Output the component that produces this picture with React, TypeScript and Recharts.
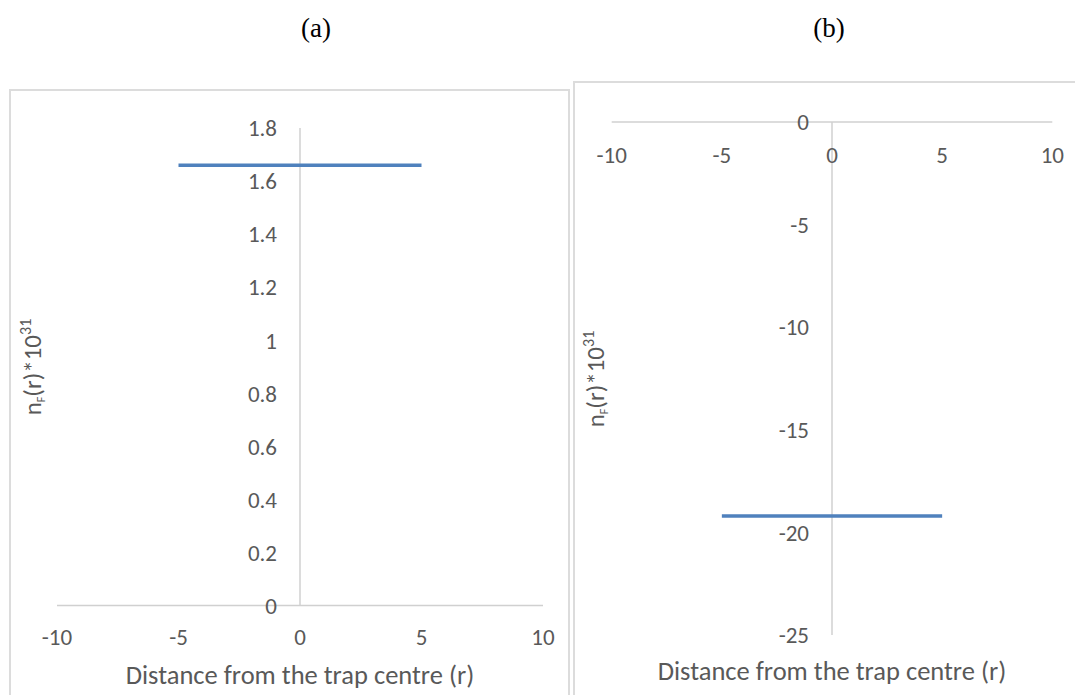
import React from 'react';
import { LineChart, Line, XAxis, YAxis, ReferenceLine } from 'recharts';

// ---- data ----
const distanceA = [-5, -4, -3, -2, -1, 0, 1, 2, 3, 4, 5];
const densityA = [1.66, 1.66, 1.66, 1.66, 1.66, 1.66, 1.66, 1.66, 1.66, 1.66, 1.66];
const distanceB = [-5, -4, -3, -2, -1, 0, 1, 2, 3, 4, 5];
const densityB = [-19.2, -19.2, -19.2, -19.2, -19.2, -19.2, -19.2, -19.2, -19.2, -19.2, -19.2];
const xTicks = [-10, -5, 0, 5, 10];
const yTicksA = [0, 0.2, 0.4, 0.6, 0.8, 1, 1.2, 1.4, 1.6, 1.8];
const yTicksB = [-25, -20, -15, -10, -5, 0];
const panelTitles = ['(a)', '(b)'];
const xTitle = 'Distance from the trap centre (r)';

const dataA = distanceA.map((r, i) => ({ r, n: densityA[i] }));
const dataB = distanceB.map((r, i) => ({ r, n: densityB[i] }));

// ---- styles ----
const FONT = 'Calibri, Carlito, Lato, sans-serif';
const TEXT = '#595959';
const AXIS = '#d0d0d0';
const LINE = '#4f81bd';
const TICK_SIZE = 23;

const makeYTick = (shift: number) => (props: any) => {
  const { x, y, payload } = props;
  return (
    <text x={x + shift} y={y} dy="0.36em" textAnchor="end" fill={TEXT} fontSize={TICK_SIZE} fontFamily={FONT}>
      {String(payload.value)}
    </text>
  );
};

const makeXTick = (offset: number) => (props: any) => {
  const { x, y, payload } = props;
  return (
    <text x={x} y={y + offset} dy="0.36em" textAnchor="middle" fill={TEXT} fontSize={TICK_SIZE} fontFamily={FONT}>
      {String(payload.value)}
    </text>
  );
};

const YTitle = ({ cx, cy }: { cx: number; cy: number }) => (
  <text
    transform={`rotate(-90, ${cx}, ${cy})`}
    x={cx}
    y={cy}
    textAnchor="middle"
    fill={TEXT}
    fontSize={25}
    fontFamily={FONT}
  >
    n<tspan fontSize={12} dy={4}>F</tspan>
    <tspan dy={-4}>(r)*10</tspan>
    <tspan fontSize={16} dy={-10}>31</tspan>
  </text>
);

export default function App() {
  // chart A geometry
  const aW = 575, aH = 695;
  const aMargin = { top: 128, right: 32, bottom: 59.5, left: 56 };
  const aPlotW = aW - aMargin.left - 1 - aMargin.right;
  // chart B geometry
  const bLeft = 575, bW = 500, bH = 695;
  const bMargin = { top: 122, right: 22.7, bottom: 60, left: 35.7 };
  const bPlotW = bW - bMargin.left - 1 - bMargin.right;

  return (
    <div style={{ position: 'absolute', left: 0, top: 0, width: 1075, height: 695, overflow: 'hidden', background: '#fff' }}>
      {/* panel frames */}
      <div style={{ position: 'absolute', left: 9, top: 89, width: 561, height: 700, border: '2px solid #dcdcdc', boxSizing: 'border-box' }} />
      <div style={{ position: 'absolute', left: 573, top: 81, width: 600, height: 700, border: '2px solid #dcdcdc', boxSizing: 'border-box' }} />

      <div style={{ position: 'absolute', left: 0, top: 0 }}>
        <LineChart width={aW} height={aH} data={dataA} margin={aMargin}>
          <XAxis
            type="number"
            dataKey="r"
            domain={[-10, 10]}
            ticks={xTicks}
            interval={0}
            height={30}
            tickSize={0}
            tickMargin={0}
            tickLine={false}
            axisLine={{ stroke: AXIS, strokeWidth: 1.5 }}
            tick={makeXTick(31.3)}
          />
          <YAxis
            type="number"
            domain={[0, 1.8]}
            ticks={yTicksA}
            interval={0}
            width={1}
            tickSize={0}
            tickMargin={0}
            tickLine={false}
            axisLine={false}
            tick={makeYTick(aPlotW / 2 - 23)}
          />
          <ReferenceLine x={0} stroke={AXIS} strokeWidth={1.5} />
          <Line type="linear" dataKey="n" stroke={LINE} strokeWidth={3.5} dot={false} isAnimationActive={false} />
        </LineChart>
      </div>

      <div style={{ position: 'absolute', left: bLeft, top: 0 }}>
        <LineChart width={bW} height={bH} data={dataB} margin={bMargin}>
          <XAxis
            type="number"
            dataKey="r"
            orientation="top"
            mirror
            domain={[-10, 10]}
            ticks={xTicks}
            interval={0}
            height={30}
            tickSize={0}
            tickMargin={0}
            tickLine={false}
            axisLine={{ stroke: AXIS, strokeWidth: 1.5 }}
            tick={makeXTick(32.5)}
          />
          <YAxis
            type="number"
            domain={[-25, 0]}
            ticks={yTicksB}
            interval={0}
            width={1}
            tickSize={0}
            tickMargin={0}
            tickLine={false}
            axisLine={false}
            tick={makeYTick(bPlotW / 2 - 23)}
          />
          <ReferenceLine x={0} stroke={AXIS} strokeWidth={1.5} />
          <Line type="linear" dataKey="n" stroke={LINE} strokeWidth={3.5} dot={false} isAnimationActive={false} />
        </LineChart>
      </div>

      {/* text overlay */}
      <svg width={1075} height={695} style={{ position: 'absolute', left: 0, top: 0, pointerEvents: 'none' }}>
        <text x={316} y={37} textAnchor="middle" fontFamily="'Liberation Serif', 'Times New Roman', serif" fontSize={27} fill="#000">
          {panelTitles[0]}
        </text>
        <text x={829} y={37} textAnchor="middle" fontFamily="'Liberation Serif', 'Times New Roman', serif" fontSize={27} fill="#000">
          {panelTitles[1]}
        </text>
        <text x={300} y={684} textAnchor="middle" fill={TEXT} fontSize={26.5} fontFamily={FONT}>{xTitle}</text>
        <text x={832} y={680} textAnchor="middle" fill={TEXT} fontSize={26.5} fontFamily={FONT}>{xTitle}</text>
        <YTitle cx={41} cy={367} />
        <YTitle cx={604} cy={379} />
      </svg>
    </div>
  );
}
